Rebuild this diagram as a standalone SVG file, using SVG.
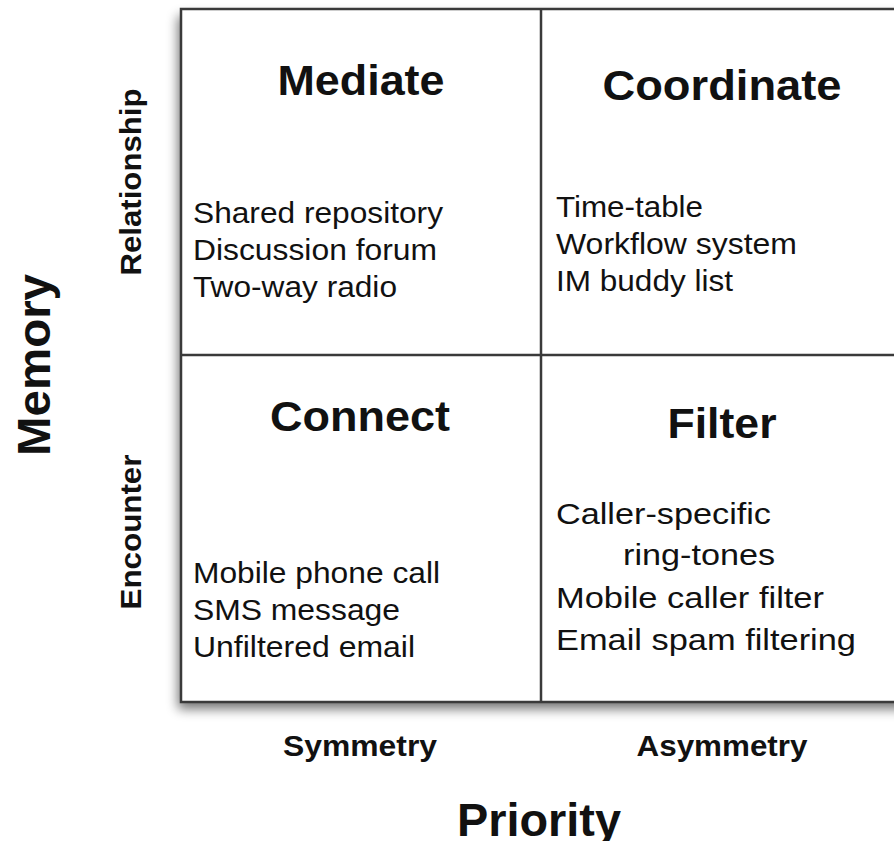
<svg xmlns="http://www.w3.org/2000/svg" width="894" height="841" viewBox="0 0 894 841">
<style>
.t{font-family:"Liberation Sans",Arial,sans-serif;font-weight:bold;font-size:42px;fill:#111;text-anchor:middle}
.b{font-family:"Liberation Sans",Arial,sans-serif;font-size:30px;fill:#111}
.ax{font-family:"Liberation Sans",Arial,sans-serif;font-weight:bold;font-size:30px;fill:#111;text-anchor:middle}
.big{font-family:"Liberation Sans",Arial,sans-serif;font-weight:bold;font-size:46px;fill:#111;text-anchor:middle}
.ln{stroke:#3a3a3a;stroke-width:2.5;fill:none}
</style>
<defs>
<filter id="sh" x="-10%" y="-10%" width="130%" height="130%">
<feGaussianBlur in="SourceAlpha" stdDeviation="6"/>
<feOffset dx="-3" dy="7" result="o"/>
<feComponentTransfer><feFuncA type="linear" slope="0.55"/></feComponentTransfer>
<feMerge><feMergeNode/><feMergeNode in="SourceGraphic"/></feMerge>
</filter>
</defs>
<rect width="894" height="841" fill="#fff"/>
<g id="grid">
<rect x="181" y="9" width="800" height="693" fill="#fff" filter="url(#sh)"/>
<rect x="181" y="9" width="800" height="693" class="ln"/>
<line x1="541" y1="9" x2="541" y2="702" class="ln"/>
<line x1="181" y1="355" x2="981" y2="355" class="ln"/>
</g>
<g id="mediate">
<text class="t" x="361" y="95" textLength="167" lengthAdjust="spacingAndGlyphs">Mediate</text>
<text class="b" x="193" y="223" textLength="250" lengthAdjust="spacingAndGlyphs">Shared repository</text>
<text class="b" x="193" y="260" textLength="244" lengthAdjust="spacingAndGlyphs">Discussion forum</text>
<text class="b" x="193" y="297" textLength="204" lengthAdjust="spacingAndGlyphs">Two-way radio</text>
</g>
<g id="coordinate">
<text class="t" x="722" y="100" textLength="239" lengthAdjust="spacingAndGlyphs">Coordinate</text>
<text class="b" x="556" y="217" textLength="147" lengthAdjust="spacingAndGlyphs">Time-table</text>
<text class="b" x="556" y="254" textLength="241" lengthAdjust="spacingAndGlyphs">Workflow system</text>
<text class="b" x="556" y="291" textLength="177" lengthAdjust="spacingAndGlyphs">IM buddy list</text>
</g>
<g id="connect">
<text class="t" x="360" y="431" textLength="180" lengthAdjust="spacingAndGlyphs">Connect</text>
<text class="b" x="193" y="583" textLength="247" lengthAdjust="spacingAndGlyphs">Mobile phone call</text>
<text class="b" x="193" y="620" textLength="207" lengthAdjust="spacingAndGlyphs">SMS message</text>
<text class="b" x="193" y="657" textLength="222" lengthAdjust="spacingAndGlyphs">Unfiltered email</text>
</g>
<g id="filter">
<text class="t" x="722" y="438" textLength="109" lengthAdjust="spacingAndGlyphs">Filter</text>
<text class="b" x="556" y="524" textLength="215" lengthAdjust="spacingAndGlyphs">Caller-specific</text>
<text class="b" x="623" y="565" textLength="152" lengthAdjust="spacingAndGlyphs">ring-tones</text>
<text class="b" x="556" y="608" textLength="268" lengthAdjust="spacingAndGlyphs">Mobile caller filter</text>
<text class="b" x="556" y="650" textLength="300" lengthAdjust="spacingAndGlyphs">Email spam filtering</text>
</g>
<g id="axes">
<text class="ax" x="360" y="756" textLength="154" lengthAdjust="spacingAndGlyphs">Symmetry</text>
<text class="ax" x="722" y="756" textLength="171" lengthAdjust="spacingAndGlyphs">Asymmetry</text>
<text class="big" x="539" y="836" textLength="164" lengthAdjust="spacingAndGlyphs">Priority</text>
<text class="ax" transform="translate(141,182) rotate(-90)" x="0" y="0" textLength="187" lengthAdjust="spacingAndGlyphs">Relationship</text>
<text class="ax" transform="translate(141,532) rotate(-90)" x="0" y="0" textLength="155" lengthAdjust="spacingAndGlyphs">Encounter</text>
<text class="big" transform="translate(50,365) rotate(-90)" x="0" y="0" textLength="182" lengthAdjust="spacingAndGlyphs">Memory</text>
</g>
<g id="connectors"/>
</svg>
